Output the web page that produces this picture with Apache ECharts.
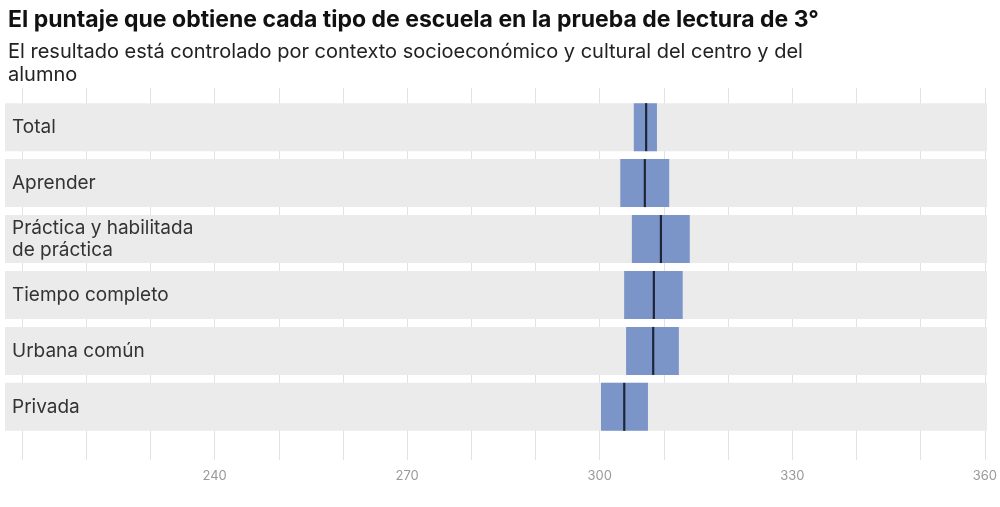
<!DOCTYPE html><html><head><meta charset="utf-8"><script src="https://cdn.jsdelivr.net/npm/echarts@6/dist/echarts.min.js"></script>
<style>body{margin:0}#c{width:1000px;height:507px}</style></head><body><div id="c"></div><script>
const categories=['Total','Aprender','Práctica y habilitada\nde práctica','Tiempo completo','Urbana común','Privada'];
const lowValues=[305.1,303.0,304.8,303.6,303.9,300.0];
const highValues=[308.7,310.6,313.8,312.7,312.1,307.3];
const medianValues=[307.0,306.8,309.3,308.2,308.1,303.6];
const tickLabels=[240,270,300,330,360];
const chart=echarts.init(document.getElementById('c'));
const data=categories.map((c,i)=>[i,lowValues[i],highValues[i],medianValues[i]]);
chart.setOption({
 animation:false,
 title:[{text:'El puntaje que obtiene cada tipo de escuela en la prueba de lectura de 3°',left:3,top:4,textStyle:{fontFamily:'Inter',fontSize:23,fontWeight:'bold',color:'#111'}},
 {text:'El resultado está controlado por contexto socioeconómico y cultural del centro y del\nalumno',left:3,top:35,textStyle:{fontFamily:'Inter',fontSize:20,fontWeight:'normal',color:'#222',lineHeight:23}}],
 grid:[{left:22,right:13,top:88,bottom:47},{left:5,right:13,top:88,bottom:47}],
 xAxis:[{gridIndex:0,type:'value',min:210,max:360,interval:10,axisLine:{show:false},axisTick:{show:false},
   splitLine:{lineStyle:{color:'#e2e2e2'}},
   axisLabel:{margin:10,color:'#999',fontFamily:'Inter',fontSize:13,formatter:v=>tickLabels.includes(v)?String(v):''}},
  {gridIndex:1,type:'value',min:207.36,max:360,show:false}],
 yAxis:[{gridIndex:0,type:'value',show:false},{gridIndex:1,type:'value',min:-0.7,max:5.95,inverse:true,show:false}],
 series:[{type:'custom',xAxisIndex:1,yAxisIndex:1,data:data,clip:false,
  renderItem:(params,api)=>{
   const i=api.value(0);
   const c0=api.coord([207.36,i]);const c1=api.coord([360,i]);
   const lo=api.coord([api.value(1),i]);const hi=api.coord([api.value(2),i]);const md=api.coord([api.value(3),i]);
   const h=48;
   return {type:'group',children:[
    {type:'rect',shape:{x:c0[0],y:c0[1]-h/2,width:c1[0]-c0[0],height:h},style:{fill:'#ebebeb'}},
    {type:'rect',shape:{x:lo[0],y:lo[1]-h/2,width:hi[0]-lo[0],height:h},style:{fill:'#7b95c8'}},
    {type:'rect',shape:{x:md[0]-1,y:md[1]-h/2,width:2.2,height:h},style:{fill:'#1d2638'}},
    {type:'text',style:{text:categories[i],x:c0[0]+7,y:c0[1],verticalAlign:'middle',fill:'#333',font:'19px Inter',lineHeight:22}}
   ]};
  }}]
});
</script></body></html>
